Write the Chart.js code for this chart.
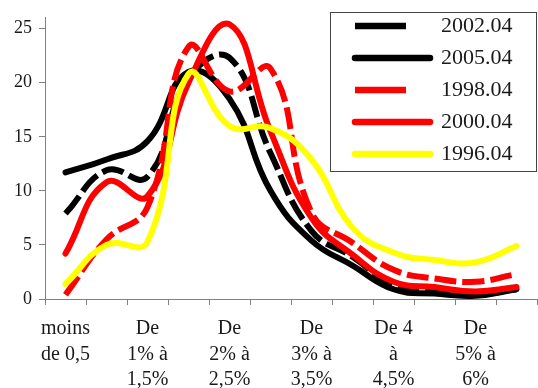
<!DOCTYPE html>
<html>
<head>
<meta charset="utf-8">
<script src="https://cdn.jsdelivr.net/npm/chart.js@4/dist/chart.umd.min.js"></script>
<style>
    html, body { margin: 0; padding: 0; background: #fff; }
    #wrap { position: relative; width: 538px; height: 388px; }
</style>
</head>
<body>
<div id="wrap"><canvas id="c"></canvas></div>
<script>
var categories = ['moins de 0,5', 'De 0,5% à 1%', 'De 1% à 1,5%', 'De 1,5% à 2%', 'De 2% à 2,5%', 'De 2,5% à 3%',
    'De 3% à 3,5%', 'De 3,5% à 4%', 'De 4 à 4,5%', 'De 4,5% à 5%', 'De 5% à 6%', 'plus de 6%'];
var tickLabels = [['moins', 'de 0,5'], '', ['De', '1% à', '1,5%'], '', ['De', '2% à', '2,5%'], '',
    ['De', '3% à', '3,5%'], '', ['De 4', 'à', '4,5%'], '', ['De', '5% à', '6%'], ''];
var yTicks = [0, 5, 10, 15, 20, 25];

var s2002 = [7.9, 11.9, 11.3, 20.4, 22.3, 13.5, 6.3, 3.9, 1.3, 0.6, 0.4, 0.9];
var s2005 = [11.7, 12.9, 14.6, 21.0, 18.5, 10.0, 5.4, 3.1, 0.9, 0.5, 0.3, 0.9];
var s1998 = [0.4, 5.5, 8.5, 23.3, 19.2, 21.3, 8.0, 5.2, 2.7, 1.9, 1.6, 2.3];
var s2000 = [4.2, 10.8, 9.5, 20.0, 25.4, 15.5, 7.5, 4.1, 1.6, 1.1, 0.7, 1.1];
var s1996 = [1.4, 5.0, 5.3, 20.8, 16.0, 15.8, 12.9, 6.6, 4.3, 3.6, 3.4, 4.9];

Chart.defaults.font.family = '"Liberation Serif", "DejaVu Serif", serif';
Chart.defaults.color = '#1a1a1a';

function serie(label, data, color, dashed, order) {
    return {
        label: label,
        data: data,
        borderColor: color,
        backgroundColor: color,
        borderWidth: 6,
        borderDash: dashed ? [22, 6] : [],
        borderCapStyle: dashed ? 'butt' : 'round',
        borderJoinStyle: 'round',
        pointRadius: 0,
        tension: 0.45,
        fill: false,
        order: order
    };
}

// legende encadree, posee en haut a droite dans la zone du graphique
var legendBox = {
    id: 'legendBox',
    afterLayout: function (chart) {
        var lg = chart.legend;
        lg.left = 345; lg.top = 5;
        lg.right = lg.left + lg.width; lg.bottom = lg.top + lg.height;
    },
    beforeDraw: function (chart) {
        var ctx = chart.ctx;
        ctx.save();
        ctx.fillStyle = '#fff';
        ctx.fillRect(330, 12, 207, 160);
        ctx.strokeStyle = '#444';
        ctx.lineWidth = 1;
        ctx.strokeRect(330.5, 12.5, 206, 159);
        ctx.restore();
    }
};

new Chart(document.getElementById('c'), {
    type: 'line',
    data: {
        labels: categories,
        datasets: [
            serie('2002.04', s2002, '#000000', true, 4),
            serie('2005.04', s2005, '#000000', false, 3),
            serie('1998.04', s1998, '#ff0000', true, 2),
            serie('2000.04', s2000, '#ff0000', false, 1),
            serie('1996.04', s1996, '#ffff00', false, 0)
        ]
    },
    options: {
        responsive: true,
        maintainAspectRatio: false,
        animation: false,
        events: [],
        layout: {padding: {top: 16, right: 1, left: 0, bottom: 0}},
        scales: {
            x: {
                offset: true,
                grid: {offset: true, drawOnChartArea: false, tickLength: 6, color: '#808080'},
                border: {color: '#808080'},
                ticks: {
                    autoSkip: false, maxRotation: 0, minRotation: 0, padding: 11,
                    font: {size: 20, lineHeight: 1.28},
                    callback: function (v, i) { return tickLabels[i]; }
                },
                afterFit: function (s) { s.height = 89; }
            },
            y: {
                min: 0, max: 26,
                grid: {drawOnChartArea: false, tickLength: 6, color: '#808080'},
                border: {color: '#808080'},
                ticks: {padding: 7, font: {size: 18}},
                afterBuildTicks: function (s) { s.ticks = yTicks.map(function (v) { return {value: v}; }); },
                afterFit: function (s) { s.width = 45; }
            }
        },
        plugins: {
            tooltip: {enabled: false},
            legend: {
                position: 'chartArea',
                align: 'start',
                labels: {
                    usePointStyle: true,
                    pointStyleWidth: 75,
                    padding: 10,
                    color: '#1a1a1a',
                    font: {size: 22},
                    sort: function (a, b) { return a.datasetIndex - b.datasetIndex; },
                    generateLabels: function (chart) {
                        var items = Chart.defaults.plugins.legend.labels.generateLabels(chart);
                        items.forEach(function (it) {
                            var ds = chart.data.datasets[it.datasetIndex];
                            it.pointStyle = 'line';
                            it.strokeStyle = ds.borderColor;
                            it.lineWidth = 6.5;
                            it.lineCap = ds.borderCapStyle;
                            it.lineDash = ds.borderDash.length ? [51, 200] : [];
                        });
                        return items;
                    }
                }
            }
        }
    },
    plugins: [legendBox]
});
</script>
</body>
</html>
